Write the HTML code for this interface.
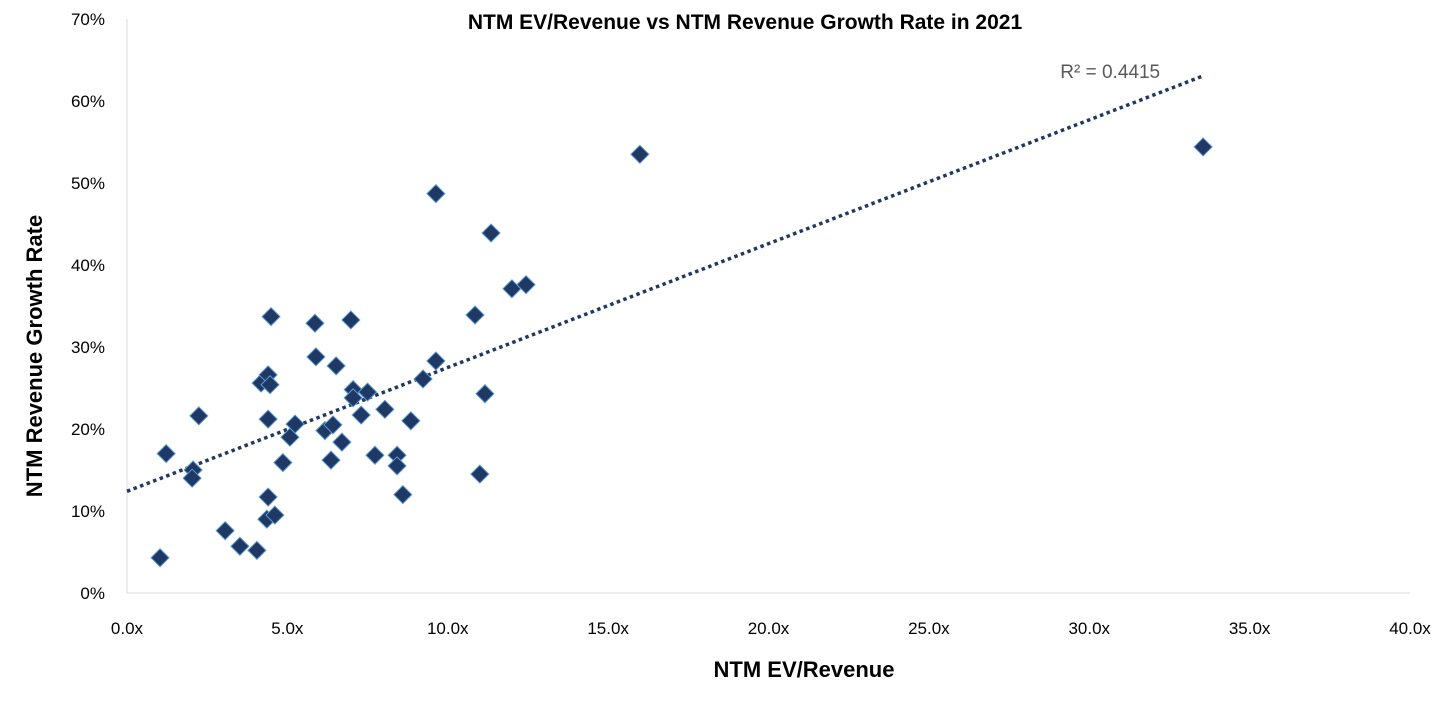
<!DOCTYPE html>
<html><head><meta charset="utf-8"><style>
body{margin:0;background:#fff;}
svg{display:block;font-family:"Liberation Sans",Arial,sans-serif;}
</style></head><body>
<svg id="chart" width="1456" height="709">
<text x="745" y="29" text-anchor="middle" font-size="21" font-weight="bold" fill="#000">NTM EV/Revenue vs NTM Revenue Growth Rate in 2021</text>
<text transform="translate(42,356) rotate(-90)" text-anchor="middle" font-size="22" font-weight="bold">NTM Revenue Growth Rate</text>
<text x="804" y="677" text-anchor="middle" font-size="22" font-weight="bold">NTM EV/Revenue</text>
<g id="axes"></g>
<g id="trend"></g>
<g id="points"></g>
</svg>
<script>
const xVals=[1.03,1.22,2.06,2.03,2.24,3.06,3.52,4.05,4.18,4.4,4.4,4.36,4.61,4.49,4.4,4.46,4.86,5.08,5.24,5.86,5.89,6.52,6.36,6.17,6.42,6.7,6.98,7.05,7.05,7.3,7.5,7.73,8.04,8.42,8.42,8.6,8.85,9.23,9.63,9.63,10.85,11.0,11.16,11.35,12.0,12.44,15.99,33.55];
const yVals=[4.3,17.0,15.0,14.0,21.6,7.6,5.7,5.2,25.6,26.6,11.7,9.0,9.5,33.7,21.2,25.4,15.9,19.0,20.6,32.9,28.8,27.7,16.2,19.8,20.5,18.4,33.3,24.8,23.8,21.7,24.5,16.8,22.4,16.8,15.5,12.0,21.0,26.1,28.3,48.7,33.9,14.5,24.3,43.9,37.1,37.6,53.5,54.4];
const xTicks=[0,5,10,15,20,25,30,35,40];
const yTicks=[0,10,20,30,40,50,60,70];
const trendIntercept=[12.4];
const trendSlope=[1.51];
const rSquaredLabel="R² = 0.4415";
const NS="http://www.w3.org/2000/svg";
const X0=127,X1=1410,Y0=593,Y1=19;
const sx=v=>X0+(v-0)/40*(X1-X0);
const sy=v=>Y0-(v/70)*(Y0-Y1);
function mk(t,a,p){const e=document.createElementNS(NS,t);for(const k in a)e.setAttribute(k,a[k]);p.appendChild(e);return e;}
const axes=document.getElementById('axes');
let l=mk('line',{x1:X0,y1:Y1,x2:X0,y2:Y0,stroke:'#d9d9d9','stroke-width':1},axes);


l=mk('line',{x1:X0,y1:Y0,x2:X1,y2:Y0,stroke:'#d9d9d9','stroke-width':1},axes);


xTicks.forEach(v=>{const t=mk('text',{x:sx(v),y:Y0+41,'text-anchor':'middle','font-size':17,fill:'#000'},axes);t.textContent=v.toFixed(1)+'x';

});
yTicks.forEach(v=>{const t=mk('text',{x:X0-22,y:sy(v)+6,'text-anchor':'end','font-size':17,fill:'#000'},axes);t.textContent=v+'%';

});
const a=trendIntercept[0],b=trendSlope[0];const xmax=Math.max(...xVals);
const tg=document.getElementById('trend');
const tl=mk('line',{x1:sx(0),y1:sy(a),x2:sx(xmax),y2:sy(a+b*xmax),stroke:'#1f3864','stroke-width':3.5,'stroke-dasharray':'3.5 3.5'},tg);


const rt=mk('text',{x:sx(xmax)-43,y:sy(a+b*xmax)+2,'text-anchor':'end','font-size':19,fill:'#595959'},tg);rt.textContent=rSquaredLabel;


const pg=document.getElementById('points');
for(let i=0;i<xVals.length;i++){const cx=sx(xVals[i]),cy=sy(yVals[i]),r=9;
const p=mk('path',{d:`M${cx},${cy-r}L${cx+r},${cy}L${cx},${cy+r}L${cx-r},${cy}Z`,fill:'#1f3864',stroke:'#5b9bd5','stroke-width':1},pg);

}
</script>
</body></html>
